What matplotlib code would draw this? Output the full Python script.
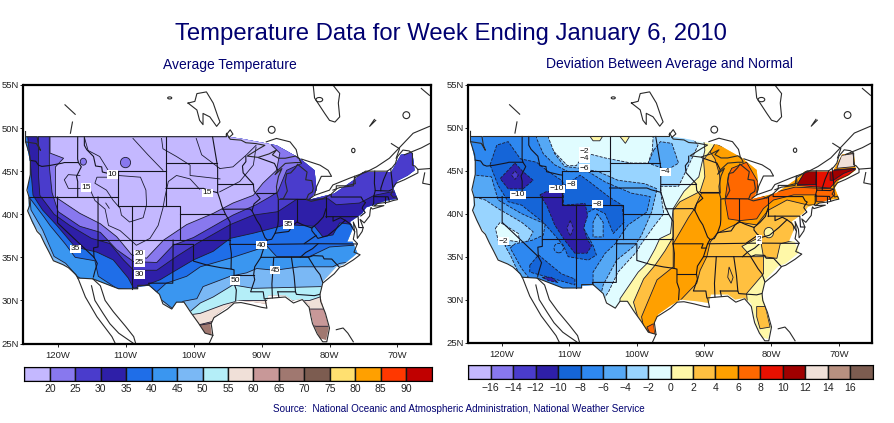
# -*- coding: utf-8 -*-
import matplotlib
matplotlib.use("Agg")
import matplotlib.pyplot as plt
from matplotlib.patches import Polygon, Ellipse

W, H = 895, 423
NAVY = "#000070"

# ---- colour bars
avg_levels = [20, 25, 30, 35, 40, 45, 50, 55, 60, 65, 70, 75, 80, 85, 90]
avg_colors = ["#c4b8ff", "#8878ee", "#4a3ccc", "#2e1fa8", "#1f6ee8", "#3a96f0", "#7ab8f5", "#b4eef8",
              "#f0e0d8", "#c89898", "#a07870", "#7c5c50", "#ffe070", "#ffa000", "#ff3800", "#c00000"]
dev_levels = [-16, -14, -12, -10, -8, -6, -4, -2, 0, 2, 4, 6, 8, 10, 12, 14, 16]
dev_colors = ["#c4b8ff", "#8878ee", "#4a3ccc", "#2e1fa8", "#1565d8", "#2e88f0", "#55a8f5", "#98d4ff", "#e0fcff",
              "#fff8a8", "#ffc040", "#ffa000", "#ff6800", "#e81000", "#a00000", "#f0e0d8", "#b89080", "#7c5c50"]

# ---- geography (lon, lat)
land = [(-124.6, 49), (-95.1, 49), (-93.2, 48.8), (-87.8, 48), (-84.4, 46.5), (-82.2, 45.1), (-81.9, 42.8),
        (-82.9, 41.7), (-79.3, 42.4), (-76, 44.2), (-75.1, 44.9), (-70.9, 44.9), (-69.5, 46.9), (-67.8, 47.1),
        (-67.5, 45.1), (-68.5, 44.5), (-70, 43.9), (-70.6, 43), (-70, 41.8), (-71.6, 41.6), (-74.6, 40.8),
        (-75.2, 40.1), (-77, 39.1), (-76.5, 38.5), (-77.4, 36.8), (-76.6, 36.8), (-75.9, 35.5), (-76.5, 35.1),
        (-77.9, 34.2), (-79, 33.9), (-81, 32.2), (-81.4, 30.6), (-80.7, 28.5), (-80.1, 26.8), (-80.5, 25.4),
        (-81.4, 25.6), (-82.3, 27.1), (-82.7, 28.5), (-83, 29.5), (-84, 30.2), (-85.4, 30), (-86.5, 30.6),
        (-89, 30.6), (-89.3, 29.6), (-91, 29.8), (-93.5, 30), (-95, 29.3), (-96.8, 28.3), (-97.5, 27.2),
        (-97.3, 26), (-98.3, 26.2), (-99.3, 27.4), (-100.4, 28.7), (-101.4, 29.8), (-102.5, 29.8), (-103.2, 29),
        (-104.5, 29.8), (-105, 30.7), (-106.5, 31.7), (-108.2, 31.6), (-108.2, 31.35), (-111, 31.35),
        (-114.8, 32.5), (-117, 32.6), (-118.4, 33.9), (-120.5, 34.6), (-121.8, 36.5), (-122.5, 37.7),
        (-123.7, 39), (-124.3, 40.4), (-124.2, 42.1), (-124.4, 43), (-124, 44.5), (-124, 46), (-124.6, 48.3)]

coast_lines = [
    [(-124.7, 49.6), (-124.7, 48.4), (-124.1, 46.9), (-124, 46.2), (-124, 44.6), (-124.5, 42.8), (-124.2, 42),
     (-124.1, 41), (-124.4, 40.4), (-123.8, 39.3), (-123, 38), (-122.5, 37.6), (-121.9, 36.6), (-121.3, 35.7),
     (-120.6, 34.6), (-119.2, 34.15), (-118.4, 33.8), (-117.3, 33), (-116.9, 32.4), (-115.9, 30.4), (-114.2, 28.1),
     (-112, 25.8), (-111.5, 25)],
    [(-115, 31.7), (-114.5, 30), (-113.3, 28.5), (-112.3, 27.3), (-111, 26.2), (-108.8, 25)],
    [(-114.8, 32.5), (-113.7, 31.7), (-113, 30), (-111.8, 28.7), (-110, 27), (-108.8, 25.8), (-108.5, 25)],
    [(-117, 32.6), (-114.8, 32.5), (-111, 31.35), (-108.2, 31.35), (-108.2, 31.75), (-106.5, 31.75), (-105, 30.7),
     (-104.5, 29.6), (-103.2, 29), (-102.5, 29.8), (-101.4, 29.8), (-100.4, 28.6), (-99.3, 27.4), (-98.3, 26.2),
     (-97.15, 25.95), (-97.7, 25)],
    [(-97.15, 25.95), (-97.4, 27.3), (-97, 28), (-95, 29), (-94, 29.7), (-93, 29.75), (-91.5, 29.5), (-90, 29.2),
     (-89.2, 29.1), (-89.5, 30.2), (-88, 30.3), (-86.5, 30.4), (-85.3, 29.7), (-84, 30.1), (-83, 29.2), (-82.7, 28),
     (-82.5, 27.3), (-81.8, 26.1), (-81, 25.2), (-80.4, 25.2), (-80, 26.8), (-80.6, 28.5), (-81.3, 29.9),
     (-81.4, 30.7), (-81, 32), (-79.3, 33.1), (-78.5, 33.85), (-77.9, 34), (-76.5, 34.7), (-75.5, 35.3), (-76.4, 35.6),
     (-75.9, 36.6), (-76.5, 37.1), (-76.3, 37.9), (-76.5, 39.1), (-76, 38.2), (-75.9, 37.2), (-75.2, 38), (-75.05, 38.45),
     (-75.5, 39.4), (-74.9, 39), (-74.1, 39.8), (-74, 40.5), (-73.9, 40.8), (-73.7, 40.6), (-72, 41), (-73.5, 40.95),
     (-72.9, 41.25), (-71.4, 41.4), (-70.6, 41.6), (-70, 41.7), (-70.2, 42.05), (-70.6, 41.95), (-71, 42.3),
     (-70.7, 42.7), (-70.7, 43.1), (-70.2, 43.6), (-69, 44), (-68, 44.4), (-67, 44.8), (-67, 45.2), (-65.3, 45.3)],
    [(-124.7, 49), (-123, 49), (-122.8, 48), (-122.5, 47.4), (-123.1, 48.2), (-124.7, 48.4)],
    [(-122.8, 49), (-95.15, 49), (-95.15, 49.4), (-94.6, 48.7), (-93, 48.6), (-92.3, 48.3), (-90.8, 48.2), (-89.5, 48),
     (-90.4, 47.6), (-92.1, 46.75), (-90.5, 46.6), (-88.9, 47), (-87.8, 47.45), (-88.4, 46.9), (-87.5, 46.5),
     (-86.5, 46.5), (-85, 46.75), (-84.5, 46.5), (-84.2, 46), (-85, 46), (-86.5, 45.9), (-87.6, 45.1), (-88, 44.6),
     (-87, 45.3), (-87.5, 44.4), (-87.8, 43.2), (-87.7, 42.3), (-87.5, 41.7), (-86.8, 41.8), (-86.2, 42.7), (-86.5, 43.8),
     (-86.3, 44.7), (-85.7, 44.8), (-85, 45.4), (-84.7, 45.8), (-83.3, 44.9), (-83.5, 44), (-82.6, 43.9), (-82.4, 43),
     (-82.5, 42.6), (-83.1, 42.3), (-83.4, 41.7), (-82.7, 41.5), (-81, 41.8), (-79.8, 42.3), (-79, 42.9), (-79, 43.3),
     (-77.5, 43.3), (-76.2, 43.55), (-76.3, 44.2), (-74.7, 45), (-71.5, 45), (-70.8, 45.4), (-70.3, 45.9), (-70, 46.7),
     (-69.2, 47.45), (-68.3, 47.35), (-67.8, 47.07), (-67.8, 45.7), (-67.45, 45.6), (-67, 45.2)],
    [(-89.3, 48.4), (-87.8, 48.8), (-85.8, 48.4), (-84.9, 47.5), (-84.6, 46.5)],
    [(-84.1, 46.4), (-81.4, 45.7), (-80.2, 45.1), (-79.7, 44.4), (-81.2, 44.4), (-81.9, 43.2), (-82.2, 42.2), (-82.9, 41.8)],
    [(-82.2, 42.2), (-80, 42.8), (-79.5, 43.4), (-77, 44.2), (-74.6, 44.9), (-73.1, 45.5), (-71.2, 46.5), (-67.7, 49.4), (-65.3, 50.2)],
    [(-79.5, 42.8), (-78.5, 43.1), (-76.5, 43.3), (-76.3, 44.4)],
    [(-100.8, 52.9), (-99.8, 53.1), (-99.5, 54), (-98.1, 54.2), (-97.1, 52.9), (-96.4, 51.3), (-96.1, 50.7), (-96.6, 50.2),
     (-97.6, 51.3), (-98.6, 51.7), (-98.6, 50.4), (-99.1, 50.9), (-99.5, 52.1), (-100.8, 52.9)],
    [(-82.4, 55), (-82.2, 53.5), (-80.7, 51.7), (-80, 50.9), (-79.2, 50.7), (-78.5, 51.3), (-78.7, 52.9), (-78.5, 54), (-79.5, 55)],
    [(-95.2, 49.2), (-94.6, 49.8), (-94.2, 49.3), (-94.8, 48.9)],
    [(-118.9, 52.7), (-117.4, 51.6)],
    [(-117.8, 50.7), (-118.1, 49.4)],
    [(-73.4, 51), (-74.1, 50.2), (-73.2, 50.9)],
    [(-66.5, 54.6), (-65.3, 53.8)],
    [(-70.9, 48.2), (-69.7, 47.6), (-70.2, 46.5)],
    [(-69, 46.9), (-66.5, 47.7), (-65.3, 48.2)],
    [(-66, 44.8), (-66.3, 43.6), (-65, 43.4)],
    [(-79, 26.6), (-78, 26.8), (-77.3, 26.2), (-76.5, 25.2)],
]
small_lakes = [(-88.5, 49.8, 0.5, 0.4), (-103.5, 53.5, 0.3, 0.12), (-68.7, 51.5, 0.5, 0.4), (-76.5, 47.4, 0.25, 0.25),
               (-81.5, 53.3, 0.5, 0.25)]

state_lines = [
    [(-124, 46.25), (-123.2, 46.15), (-122.8, 45.7), (-122.3, 45.55), (-121.2, 45.65), (-119.3, 45.93), (-119, 46), (-116.92, 46)],
    [(-117.03, 49), (-117.04, 46.4), (-116.92, 46), (-116.5, 45.5), (-117.2, 44.4), (-117.03, 43.8), (-117.03, 42)],
    [(-124.2, 42), (-111.05, 42)], [(-120, 42), (-120, 39), (-114.63, 35), (-114.15, 34.3), (-114.5, 33.4), (-114.72, 32.72)],
    [(-114.04, 42), (-114.04, 36.2), (-114.7, 36.1), (-114.63, 35)], [(-114.04, 37), (-94.62, 37)],
    [(-111.05, 45), (-104.05, 45)], [(-111.05, 45), (-111.05, 41), (-109.05, 41), (-109.05, 31.33)],
    [(-116.05, 49), (-116.05, 48), (-115.7, 47.5), (-114.7, 46.7), (-114.4, 45.6), (-113.5, 45.5), (-113.4, 44.9), (-111.5, 44.55), (-111.05, 44.5)],
    [(-104.05, 49), (-104.05, 41)], [(-109.05, 41), (-102.05, 41), (-102.05, 37)], [(-104.05, 45.94), (-96.56, 45.94)],
    [(-104.05, 43), (-98.5, 43), (-97.9, 42.8), (-96.45, 42.5)], [(-102.05, 40), (-95.3, 40)],
    [(-94.62, 36.5), (-94.62, 39.1), (-95.3, 40), (-95.85, 41), (-96.1, 41.7), (-96.45, 42.5), (-96.45, 45.3), (-96.56, 46), (-97.2, 49)],
    [(-96.45, 43.5), (-91.2, 43.5)], [(-95.77, 40.58), (-91.7, 40.6), (-91.4, 40.4)],
    [(-103, 37), (-103, 36.5), (-100, 36.5), (-100, 34.56), (-98, 34.1), (-96, 33.8), (-94.48, 33.64)],
    [(-103, 36.5), (-103.05, 32), (-106.6, 32), (-106.5, 31.75)], [(-94.62, 36.5), (-94.43, 35.4), (-94.48, 33.64), (-94.04, 33.55), (-94.04, 32), (-93.7, 31.2), (-93.8, 30)],
    [(-94.62, 36.5), (-90.15, 36.5), (-90.4, 36), (-89.7, 36)], [(-94.04, 33), (-91.15, 33)],
    [(-92.3, 46.7), (-92.3, 46.1), (-92.8, 45.6), (-92.7, 44.8), (-91.2, 43.5), (-91.1, 42.7), (-90.2, 41.8), (-91.1, 41.2), (-91.4, 40.4),
     (-90.7, 39.3), (-90.2, 38.7), (-89.5, 37.3), (-89.15, 37), (-89.5, 36.5), (-89.7, 36), (-90.1, 35), (-91, 33.9), (-91.15, 33),
     (-91, 32.4), (-91.6, 31), (-89.75, 31), (-89.6, 30.2)],
    [(-89.5, 36.5), (-81.68, 36.58), (-75.9, 36.55)], [(-90.1, 35), (-83.1, 35), (-82.4, 35.2), (-81, 35.15), (-80.8, 34.82), (-79.67, 34.8), (-78.55, 33.85)],
    [(-84.3, 35), (-83.5, 35.56), (-82.5, 36), (-81.68, 36.58)], [(-88.2, 35), (-88.47, 31.9), (-88.4, 30.3)], [(-85.6, 35), (-85.2, 32.8), (-85, 31)],
    [(-87.6, 31), (-85, 31), (-84.86, 30.7), (-82.2, 30.55), (-81.45, 30.7)], [(-87.6, 31), (-87.45, 30.4)], [(-83.1, 35), (-82, 33.6), (-81.4, 33), (-81, 32.1)],
    [(-89.15, 37), (-88.5, 37.1), (-88, 37.8), (-87, 37.9), (-86, 38), (-85.4, 38.7), (-84.8, 39.1), (-84, 38.8), (-82.6, 38.4), (-81.7, 39), (-80.9, 39.7), (-80.52, 40.64)],
    [(-87.53, 41.7), (-87.53, 39.3), (-87.6, 38.7), (-88, 37.8)], [(-84.8, 39.1), (-84.8, 41.76)], [(-87.2, 41.76), (-83.45, 41.73)], [(-90.6, 42.5), (-87.8, 42.5)],
    [(-90.4, 46.55), (-88.1, 45.9), (-87.6, 45.1)], [(-80.52, 39.72), (-80.52, 42)], [(-79.76, 42.27), (-79.76, 42), (-75.35, 42), (-75, 41.5), (-74.7, 41.36), (-75.1, 40.9), (-75.2, 40.7), (-74.75, 40.2), (-75.4, 39.8)],
    [(-80.52, 39.72), (-75.79, 39.72), (-75.7, 38.46), (-75.05, 38.45)], [(-79.48, 39.72), (-79.48, 39.2), (-78.4, 39.6), (-77.7, 39.3), (-78.9, 38.4), (-80.3, 37.5), (-81.7, 37.2), (-82.6, 38.1), (-82.6, 38.4)],
    [(-77.7, 39.3), (-77, 38.9), (-76.3, 38)], [(-83.7, 36.6), (-81.97, 37.54)], [(-73.35, 45), (-73.4, 43.6), (-73.27, 42.75), (-73.5, 42.05), (-73.5, 41.3), (-73.65, 41)],
    [(-71.5, 45), (-72.05, 44), (-72.45, 43), (-72.46, 42.73)], [(-73.27, 42.75), (-71.3, 42.7), (-70.82, 42.87)], [(-73.5, 42.05), (-71.38, 42.02), (-71.2, 41.5)],
    [(-71.8, 42), (-71.8, 41.3)], [(-70.7, 43.1), (-71, 45.3)],
]

# ---- average temperature: regions colder than each level
avg_base = [(-126, 24), (-64, 24), (-64, 56), (-126, 56)]
t_65 = [(-126, 27.3), (-99.3, 27.1), (-97, 27.4), (-90, 27.5), (-81.9, 27), (-79, 27), (-66, 27.5), (-66, 50), (-126, 50)]
t_60 = [(-126, 27.4), (-99.3, 27.15), (-97, 27.6), (-90, 29), (-82.7, 29), (-79, 29), (-66, 30), (-66, 50), (-126, 50)]
t_55 = [(-126, 28), (-103, 28), (-100.8, 28.3), (-99, 28.5), (-95.6, 29.5), (-93.2, 30), (-82.9, 30), (-81.4, 30.4), (-78, 31), (-66, 31.5), (-66, 50), (-126, 50)]
t_50 = [(-126, 30), (-106, 28), (-100.5, 28.7), (-99, 29.7), (-97.1, 30.4), (-94.2, 31.8), (-91.2, 31.4), (-81.4, 31.6), (-78, 31.5), (-66, 32), (-66, 50), (-126, 50)]
t_45 = [(-126, 44.5), (-124.2, 43.4), (-123.9, 40.5), (-122.2, 38.2), (-120.5, 35.1), (-118.8, 34.3), (-117.1, 32.8), (-115.7, 32), (-111.3, 30.8), (-105.4, 30.5),
        (-103, 29), (-101.5, 29.9), (-99.5, 30.2), (-98.6, 31.6), (-94.6, 32.8), (-92.2, 33.2), (-90.7, 33.7), (-88, 33.5), (-84.4, 33.9), (-79.5, 33.9), (-78.5, 34.3), (-72, 35), (-66, 36), (-66, 50), (-126, 50)]
t_40 = [(-126, 42), (-124, 41.8), (-122, 39.7), (-121.1, 38.7), (-118.8, 36.5), (-117.4, 35), (-114.5, 34.6), (-114, 32.8), (-111.3, 31.4), (-105.4, 31), (-104, 32), (-101, 32.8),
        (-99, 33.9), (-94.6, 34.9), (-90.7, 35.9), (-89.3, 36.4), (-87.8, 35.1), (-82.9, 35.1), (-80, 36.2), (-76.5, 36.4), (-72, 37), (-66, 38), (-66, 50), (-126, 50)]
t_35 = [(-124.5, 50), (-124, 46), (-123.6, 42.2), (-122.2, 40.5), (-120.1, 38.7), (-117.4, 36.2), (-114.2, 35.6), (-111.8, 34.7), (-109.6, 32.6), (-108.8, 31.4), (-106.9, 31.8), (-104.9, 32.4),
        (-103, 33.3), (-100, 34.7), (-97.1, 35.7), (-94.6, 37.2), (-91.2, 37.8), (-86.3, 38.8), (-82.2, 38.6), (-81, 37.4), (-79.5, 37.6), (-78.5, 39), (-76.5, 38.8), (-75.3, 39.5), (-74.3, 39.7), (-72, 40), (-66, 41), (-66, 50)]
t_30 = [(-122.8, 50), (-122.8, 44.5), (-122.6, 42.2), (-120.5, 40), (-118.2, 38.7), (-115, 37.2), (-112.3, 36.6), (-110.3, 34.7), (-108.8, 33.5), (-105.4, 33.5), (-102.5, 35.1), (-99.5, 36.6),
        (-94.6, 38.8), (-91.2, 39.9), (-87.6, 40.3), (-84.9, 41.7), (-80.2, 41.8), (-79, 41.1), (-75.6, 41.3), (-73.4, 42.2), (-70.9, 42.6), (-69, 42.5), (-66, 43), (-66, 50)]
t_25 = [(-121.2, 50), (-121.2, 45.5), (-120.8, 42.5), (-119.9, 40.3), (-116.7, 38.6), (-113.7, 37.9), (-111.3, 35.9), (-108.8, 34.5), (-105.4, 34.4), (-103, 36.4), (-100, 37.3), (-94.2, 39.9),
        (-90.8, 41.1), (-88.8, 42), (-87.6, 42.6), (-86.3, 45.1), (-84.1, 45.9), (-84.4, 46.3), (-84.4, 50)]
t_20 = [(-121.1, 50), (-121.1, 47.1), (-119.1, 46.5), (-120.3, 45.5), (-120.3, 42), (-116.7, 40.1), (-113.7, 38.9), (-111.3, 37.4), (-109.1, 35.3), (-106.9, 34.9), (-104.4, 37), (-101, 38.8),
        (-97.1, 40.1), (-94.2, 41.3), (-91.2, 42.2), (-89.8, 43.6), (-87.8, 45.1), (-87.3, 47.1), (-88.5, 48), (-88.5, 50)]
t_20_spots = [(-110, 46, 0.75, 0.6), (-116.2, 46.1, 0.45, 0.4)]
t_inner_lines = [
    [(-116, 48.8), (-115.5, 47.4), (-113.8, 46.7), (-112.7, 45.3), (-112.3, 44.7)],
    [(-112.1, 44.3), (-114.2, 44.3), (-114.5, 43.6), (-112.8, 42.8), (-111.8, 41.6), (-110.8, 40.7), (-110.6, 39.9), (-109.4, 39.1), (-107.4, 39.6), (-106.9, 41.1), (-107, 42.8), (-107.8, 44.3), (-111.1, 44.5)],
    [(-116.7, 44.5), (-118.4, 44.6), (-119, 44), (-118.4, 43), (-116.7, 43)],
    [(-115.5, 43.4), (-114.5, 41.6), (-113, 40.6), (-112.5, 38.7), (-110.8, 38.1), (-109.8, 37.4), (-108.4, 36.4), (-106.4, 37.2), (-105.2, 38.7), (-104.5, 40.7), (-104.2, 42), (-103.7, 43.8), (-102.5, 44.5), (-100.5, 44.1), (-99.1, 42.9)],
    [(-108.9, 48.8), (-106.7, 46.9), (-104.5, 45.1)],
    [(-99.6, 48.8), (-98.8, 46.9), (-96.1, 45.3)],
    [(-104.7, 48.8), (-104.5, 47.6), (-102.5, 46.7), (-100.5, 45.7), (-100.5, 44.5), (-96.1, 44.1)],
    [(-96.15, 45.3), (-94.2, 45.5), (-92.2, 46.9), (-90.8, 48)],
    [(-90.8, 47.8), (-91.2, 45.7), (-93.2, 43.8), (-96.15, 42.6)],
    [(-112.9, 41.3), (-112.4, 40.7)],
]
avg_labels = [("10", -111.9, 44.6), ("15", -115.8, 43.1), ("15", -98, 42.5), ("35", -117.4, 36), ("20", -107.9, 35.4), ("25", -107.9, 34.4),
              ("30", -107.9, 33), ("35", -86, 38.8), ("40", -90, 36.4), ("45", -88, 33.5), ("50", -93.9, 32.3)]

# ---- deviation from normal: regions below the negative levels
d_m2 = [(-126, 50), (-126, 30), (-105, 30), (-104.2, 30.9), (-102.8, 33.2), (-100, 35.6), (-99.5, 36.3), (-97.5, 38.5), (-96, 40), (-96.3, 41.6), (-96.5, 43.2), (-93.8, 43.2), (-91.9, 46.3), (-90.9, 48), (-92, 49), (-92, 50),
        (-97.5, 50), (-97.7, 47.4), (-98.3, 45.9), (-100.8, 45.9), (-104.7, 46.5), (-106.7, 46.9), (-107.8, 46.9), (-109, 45.6), (-110.3, 45.6), (-112.5, 47.4), (-114.2, 50)]
d_m4 = [(-126, 42), (-124.3, 42), (-122.5, 41.6), (-120.6, 40.6), (-117.1, 39), (-115.4, 37.9), (-116.1, 36.9), (-117.6, 36.3), (-119.6, 36.3), (-118.8, 35.2), (-118.1, 34), (-117.1, 32.4), (-117, 30),
        (-105.5, 30), (-105, 31.7), (-103, 34.6), (-100.3, 36.3), (-99.3, 37.5), (-97.8, 40.2), (-97, 42.9), (-98.8, 43.5), (-102.8, 43.9), (-105.7, 44.9), (-108.4, 45.3), (-110.7, 45.5), (-112.2, 47), (-113.1, 48.8), (-113.1, 50), (-126, 50)]
d_m4_north = [(-97.5, 47.4), (-96.5, 48.4), (-94.8, 48.2), (-93.8, 45.9), (-95.5, 45.1), (-98.3, 45.9)]
d_m6 = [(-126, 50), (-126, 44.5), (-124, 44.5), (-121.6, 44.3), (-120.6, 41.6), (-117.1, 40), (-113.6, 38.8), (-113.9, 37.5), (-115.6, 36.9), (-118.1, 36.5), (-118.8, 36), (-117.1, 33.6), (-116.1, 32.6), (-116, 30),
        (-106.5, 30), (-106.5, 33.2), (-104.7, 35.4), (-103.2, 36.5), (-102.7, 37.1), (-101.3, 38.7), (-98.5, 40.2), (-98, 42), (-100.8, 42.4), (-104.7, 43.7), (-107.2, 44.9), (-110.2, 44.9), (-112.2, 45.7), (-113.9, 47), (-114.9, 48.8), (-114.9, 50)]
d_m6_hole = [(-105.9, 40), (-105, 39), (-105, 37.3), (-106.5, 37.3), (-106.5, 39)]
d_m8 = [(-121.8, 45.7), (-120.8, 48), (-119.1, 48.4), (-117.3, 46.4), (-114.9, 46), (-113.1, 44.9), (-111.2, 43.9), (-110.7, 43.3), (-108.4, 44.5), (-107, 43.7), (-104.2, 42), (-102.2, 41), (-101.9, 39), (-103.5, 37.7),
        (-104.7, 40), (-106.2, 40.6), (-107.7, 40), (-107.9, 38.3), (-106.5, 36.3), (-106, 35.2), (-107.2, 34.6), (-110.2, 35), (-110.9, 36.3), (-112.2, 37.5), (-113.9, 39), (-117.1, 41), (-119.1, 41.4), (-120.6, 43.3)]
d_m8_south = [(-115.9, 34), (-114.6, 35.2), (-111.2, 33), (-109.2, 32.4), (-109.2, 31.7), (-113.1, 32.6), (-115.9, 33.2)]
d_m10_north = [(-118.1, 45.9), (-116.9, 44.9), (-115.4, 43.9), (-116.9, 42.9), (-119.1, 42.9), (-120.3, 44.1)]
d_m10_mid = [(-114.4, 42.2), (-113.4, 42.6), (-110.9, 42.4), (-110.9, 41), (-107.7, 41.2), (-107.3, 39.8), (-107.9, 38.3), (-107.3, 36.9), (-106.7, 36.3), (-107.4, 35.4), (-109.2, 35.4), (-110.7, 36.9), (-112.2, 38.7), (-113.4, 41)]
d_m10_south = [(-114.1, 32.6), (-112.7, 32.6), (-111.7, 32), (-113.1, 32.2)]
d_m12_a = [(-118.1, 45), (-117.6, 44.5), (-118.1, 44), (-118.6, 44.5)]
d_m12_b = [(-109.9, 39.2), (-109.4, 38.3), (-109.9, 37.4), (-110.4, 38.3)]
d_pale_nv = [(-121, 38.3), (-120.3, 39), (-117.6, 37.7), (-117.4, 36.7), (-119.1, 36.9), (-120.6, 36.9)]
d_pale_wa = [(-125, 49), (-122.8, 49), (-123.2, 47.6), (-125, 47.6)]
d_m6_ring = (-111.6, 36, 0.7, 0.55)

# regions above the positive levels
d_p0 = [(-102.5, 25), (-102.5, 30.1), (-99.8, 33.2), (-98.5, 34.2), (-97.3, 35.9), (-96.6, 37.1), (-95, 37.7), (-94.6, 40.6), (-93, 42.6), (-90.8, 44.3), (-89.9, 47.4), (-90.1, 49), (-90, 50), (-66, 50), (-66, 25)]
d_p0_a = [(-107.4, 49.5), (-104.7, 49.5), (-105.5, 48.5), (-106.5, 48.5)]
d_p0_b = [(-103, 49.5), (-100.7, 49.5), (-101.7, 48.2)]
d_p2 = [(-99.5, 27), (-100.5, 29.7), (-99, 32.4), (-97.3, 34), (-95.8, 35.7), (-94.6, 37.3), (-94.6, 40.4), (-93.6, 41.4), (-90.6, 42.6), (-89.9, 44.3), (-90.1, 46.3), (-88.6, 47.8), (-86.1, 48), (-86, 50), (-66, 50), (-66, 38),
        (-74.5, 39.6), (-76.7, 38.5), (-76.7, 36.9), (-78.7, 36.5), (-79.2, 34.8), (-81.2, 35), (-81.2, 33), (-83.7, 30.7), (-83.5, 29), (-87, 29), (-99.5, 25)]
d_p2_fl = [(-82.2, 29.2), (-80.9, 29.2), (-80.2, 26.8), (-81.7, 26.6), (-82.2, 28)]
d_p0_patch = [(-84.4, 36.2), (-81.7, 37.3), (-81.2, 35), (-83, 35)]
d_p0_oval = (-80.4, 37.8, 0.7, 0.6)
d_p4 = [(-99, 26.8), (-99.3, 28), (-97, 32.3), (-94.6, 33.8), (-94.6, 36.5), (-92.3, 39.6), (-91.6, 40.4), (-90.4, 42.4), (-87.6, 42.4), (-87.7, 44.5), (-88.4, 46.4), (-89.1, 47.2), (-88.4, 48.2), (-85.9, 47.4), (-84, 47), (-66, 47), (-66, 41.5),
        (-74.5, 41), (-77.7, 41.6), (-80.5, 40.4), (-82.2, 38.7), (-84.7, 39), (-88.1, 37.7), (-89.1, 36.7), (-89.6, 35), (-90.6, 33.4), (-91.1, 31.9), (-92.1, 31.1), (-93.8, 29.7), (-95, 27), (-97, 25.5)]
d_p4_hole = [(-86.3, 33.8), (-85.7, 32.6), (-86, 31.9), (-86.5, 32.6)]
d_p6 = [(-86.4, 44.5), (-85.9, 45.3), (-83.7, 46), (-82, 43.7), (-82.2, 42.4), (-80.7, 41.8), (-79.5, 42.5), (-76.5, 43.1), (-70.8, 42.9), (-70.6, 42.2), (-71.8, 41.4), (-73.3, 41.4), (-73.3, 42.2), (-76.7, 42.2), (-79.7, 41.6),
        (-81.2, 40.6), (-82.2, 39.4), (-84.7, 39.2), (-86.4, 39.4), (-86.9, 41.6)]
d_p6_tx = [(-98.5, 26.8), (-97.5, 27.2), (-97.3, 25.8), (-98, 26)]
d_p8 = [(-76.2, 43.3), (-75, 44.9), (-67.3, 45.3), (-68.6, 44.5), (-70.3, 43.9), (-71.3, 43)]
d_p10_a = [(-76.2, 43.4), (-75, 44.9), (-73.3, 44.9), (-73.3, 43.4)]
d_p10_b = [(-71.3, 45), (-67.3, 45.3), (-69.3, 44.7), (-70.8, 43.9), (-71.3, 43.9)]
d_p12 = [(-70.3, 45.3), (-69.6, 46.8), (-67.9, 47), (-67.6, 45.5)]
dev_labels = [("\u221210", -117.7, 42.2), ("\u221210", -111.9, 42.9), ("\u22128", -109.7, 43.4), ("\u22128", -105.8, 41.1), ("\u22126", -107.8, 45.3),
              ("\u22124", -107.8, 46.4), ("\u22122", -107.8, 47.3), ("\u22124", -95.7, 44.9), ("\u22122", -119.8, 36.8), ("2", -81.9, 37)]


def px_axes(fig, x0, y0, x1, y1):
    return fig.add_axes([x0 / W, 1 - y1 / H, (x1 - x0) / W, (y1 - y0) / H])


def setup_map(ax):
    ax.set_xlim(-125, -65)
    ax.set_ylim(25, 55)
    ax.set_xticks(range(-120, -69, 10))
    ax.set_xticklabels(["%dW" % -x for x in range(-120, -69, 10)])
    ax.set_yticks(range(25, 56, 5))
    ax.set_yticklabels(["%dN" % y for y in range(25, 56, 5)])
    ax.tick_params(length=2, width=0.7, labelsize=6.8, colors="#222222")
    ax.tick_params(axis="x", pad=3.5)
    ax.tick_params(axis="y", pad=1)
    for s in ax.spines.values():
        s.set_linewidth(1.6)
    clip = Polygon(land, closed=True, transform=ax.transData, fc="none", ec="none")
    ax.add_patch(clip)
    return clip


def band(ax, clip, pts, color, ls="-"):
    p = Polygon(pts, closed=True, fc=color, ec="#1c1c30", lw=0.6, ls=ls)
    ax.add_patch(p)
    p.set_clip_path(clip)


def oval(ax, clip, spec, color, ls="-"):
    p = Ellipse(spec[:2], spec[2] * 2, spec[3] * 2, fc=color, ec="#1c1c30", lw=0.6, ls=ls)
    ax.add_patch(p)
    p.set_clip_path(clip)


def outlines(ax):
    for line in state_lines:
        ax.plot(*zip(*line), color="#141420", lw=0.8, solid_joinstyle="round")
    for line in coast_lines:
        ax.plot(*zip(*line), color="#2a2a2a", lw=0.8)
    for s in small_lakes:
        ax.add_patch(Ellipse(s[:2], s[2] * 2, s[3] * 2, fc="none", ec="#2a2a2a", lw=0.8))
    ax.set_xlim(-125, -65)
    ax.set_ylim(25, 55)


def contour_labels(ax, labels):
    for txt, lon, lat in labels:
        ax.text(lon, lat, txt, fontsize=6, ha="center", va="center", color="#111111",
                bbox=dict(fc="white", ec="none", pad=0.5))


def colorbar(fig, box, colors, levels):
    ax = px_axes(fig, *box)
    ax.bar(range(len(colors)), [1] * len(colors), width=1, align="edge", color=colors, edgecolor="#151515", linewidth=1.0)
    ax.set_xlim(0, len(colors))
    ax.set_ylim(0, 1)
    ax.set_yticks([])
    ax.set_xticks(range(1, len(colors)))
    ax.set_xticklabels([str(v).replace("-", "\u2212") for v in levels])
    ax.tick_params(length=0, labelsize=7.5, pad=2.5, colors="#222222")
    for s in ax.spines.values():
        s.set_linewidth(0.8)


plt.rcParams["font.family"] = ["Liberation Sans", "DejaVu Sans"]
fig = plt.figure(figsize=(W / 100, H / 100), dpi=100)

fig.text(451 / W, 1 - 34 / H, "Temperature Data for Week Ending January 6, 2010", fontsize=17.2, color=NAVY, ha="center", va="center")
fig.text(229.5 / W, 1 - 65 / H, "Average Temperature", fontsize=10, color=NAVY, ha="center", va="center")
fig.text(669 / W, 1 - 64 / H, "Deviation Between Average and Normal", fontsize=10, color=NAVY, ha="center", va="center")
fig.text(459 / W, 1 - 409 / H, "Source:  National Oceanic and Atmospheric Administration, National Weather Service",
         fontsize=7.15, color=NAVY, ha="center", va="center")

# left map
ax1 = px_axes(fig, 23.5, 85, 431.5, 343.5)
clip1 = setup_map(ax1)
band(ax1, clip1, avg_base, avg_colors[10])
for pts, col in [(t_65, 9), (t_60, 8), (t_55, 7), (t_50, 6), (t_45, 5), (t_40, 4), (t_35, 3), (t_30, 2), (t_25, 1), (t_20, 0)]:
    band(ax1, clip1, pts, avg_colors[col])
for spot in t_20_spots:
    oval(ax1, clip1, spot, avg_colors[1])
for line in t_inner_lines:
    l, = ax1.plot(*zip(*line), color="#1c1c30", lw=0.6)
    l.set_clip_path(clip1)
outlines(ax1)
contour_labels(ax1, avg_labels)

# right map
ax2 = px_axes(fig, 468.5, 85, 872.5, 342.5)
clip2 = setup_map(ax2)
band(ax2, clip2, avg_base, dev_colors[8])
for pts, col in [(d_m2, 7), (d_pale_nv, 8), (d_pale_wa, 8), (d_m4, 6), (d_m4_north, 6), (d_m6, 5), (d_m6_hole, 6), (d_m8, 4), (d_m8_south, 4),
                 (d_m10_north, 3), (d_m10_mid, 3), (d_m10_south, 3), (d_m12_a, 2), (d_m12_b, 2)]:
    band(ax2, clip2, pts, dev_colors[col], "--")
oval(ax2, clip2, d_m6_ring, dev_colors[5], "--")
for pts, col in [(d_p0, 9), (d_p0_a, 9), (d_p0_b, 9), (d_p2, 10), (d_p0_patch, 9), (d_p2_fl, 10), (d_p4, 11), (d_p4_hole, 10), (d_p6, 12), (d_p6_tx, 12),
                 (d_p8, 13), (d_p10_a, 14), (d_p10_b, 14), (d_p12, 15)]:
    band(ax2, clip2, pts, dev_colors[col])
oval(ax2, clip2, d_p0_oval, dev_colors[9])
outlines(ax2)
contour_labels(ax2, dev_labels)

colorbar(fig, (24.3, 367, 431.7, 381), avg_colors, avg_levels)
colorbar(fig, (468.3, 365, 872.7, 379.3), dev_colors, dev_levels)

fig.savefig("out.png", dpi=100)
